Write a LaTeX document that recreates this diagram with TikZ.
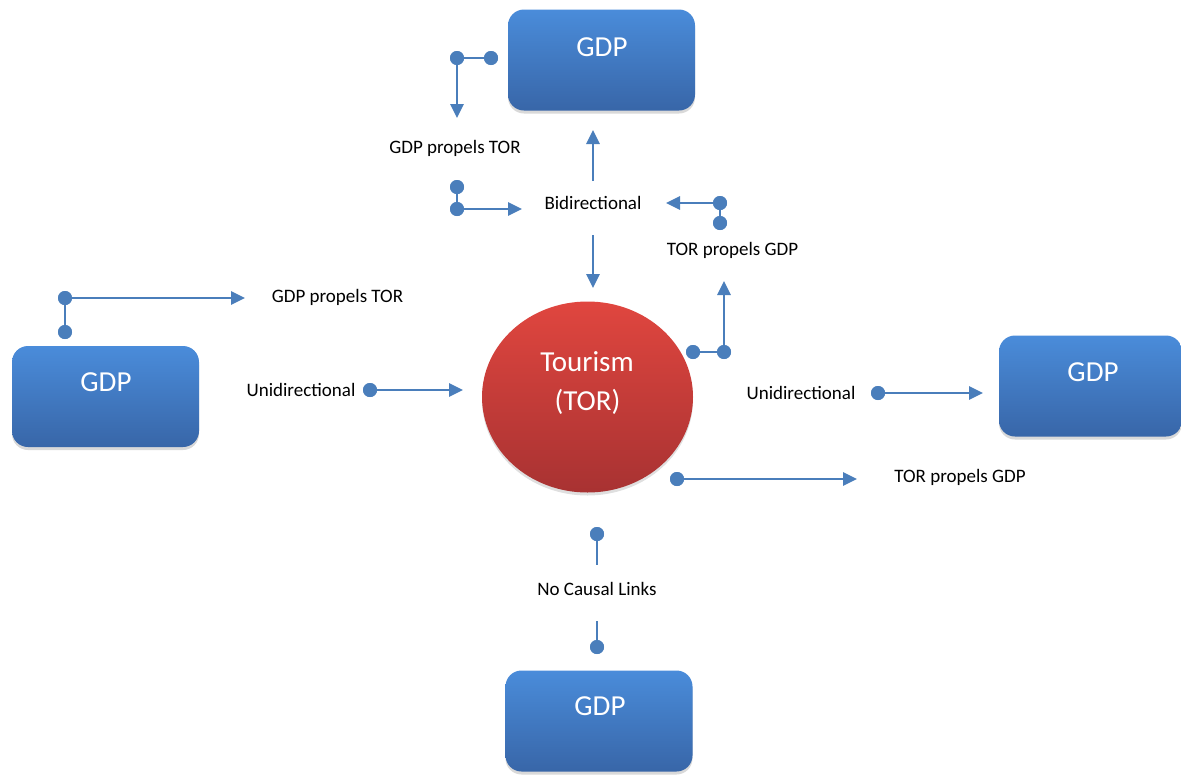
\documentclass[tikz,border=0pt]{standalone}
\usepackage{fontspec}
\setmainfont{Carlito}
\usetikzlibrary{arrows.meta,shadows,shapes.geometric}
\definecolor{conn}{HTML}{4A7EBB}
\definecolor{boxtop}{HTML}{4A8CDA}
\definecolor{boxbot}{HTML}{3866A8}
\definecolor{redtop}{HTML}{E0463F}
\definecolor{redbot}{HTML}{A83232}
\begin{document}
\begin{tikzpicture}[x=1pt,y=-1pt,
  gdpbox/.style={rectangle, rounded corners=16pt, minimum width=187pt, minimum height=101pt,
    top color=boxtop, bottom color=boxbot, draw=none, inner sep=0pt,
    drop shadow={opacity=0.3, shadow xshift=0pt, shadow yshift=-3pt}},
  torshape/.style={ellipse, minimum width=211pt, minimum height=191pt, inner sep=0pt,
    top color=redtop, bottom color=redbot, draw=none,
    drop shadow={opacity=0.25, shadow xshift=0pt, shadow yshift=-3pt}},
  gdptext/.style={text=white, font=\fontsize{29}{34}\selectfont, inner sep=0pt},
  tortext/.style={text=white, font=\fontsize{29}{40}\selectfont, inner sep=0pt},
  lbl/.style={font=\fontsize{19}{23}\selectfont, text=black, inner sep=0pt},
  link/.style={draw=conn, line width=2.8pt},
  arr/.style={link, -{Triangle[length=14pt,width=13pt]}},
  dot/.style={circle, fill=conn, minimum size=14pt, inner sep=0pt}]

\useasboundingbox (0,0) rectangle (1181,774);

% GDP boxes
\node[gdpbox] (gtop) at (601.5,60) {};
\node[gdptext] (gtopt) at (602,47) {GDP};
\node[gdpbox] (gleft) at (105.5,396.5) {};
\node[gdptext] (gleftt) at (106,382) {GDP};
\node[gdpbox, minimum width=183pt] (gright) at (1090.5,386) {};
\node[gdptext] (grightt) at (1093,372) {GDP};
\node[gdpbox] (gbot) at (599,721) {};
\node[gdptext] (gbott) at (600,706) {GDP};

% Tourism
\node[torshape] (tor) at (587.5,397) {};
\node[tortext] (tor1) at (587,362) {Tourism};
\node[tortext] (tor2) at (587.5,402) {(TOR)};

% Labels
\node[lbl] (l1) at (455,148) {GDP propels TOR};
\node[lbl] (l2) at (593,203) {Bidirectional};
\node[lbl] (l3) at (732.5,250) {TOR propels GDP};
\node[lbl] (l4) at (337.5,297) {GDP propels TOR};
\node[lbl] (l5) at (301,390) {Unidirectional};
\node[lbl] (l6) at (801,393) {Unidirectional};
\node[lbl] (l7) at (960,477) {TOR propels GDP};
\node[lbl] (l8) at (597,589) {No Causal Links};

% Dots
\node[dot] (d1) at (491,58) {};
\node[dot] (d2) at (457,58) {};
\node[dot] (d3) at (457,187) {};
\node[dot] (d4) at (457,209) {};
\node[dot] (d5) at (720,203) {};
\node[dot] (d6) at (720,223) {};
\node[dot] (d7) at (693,352) {};
\node[dot] (d8) at (724,352) {};
\node[dot] (d9) at (65,298) {};
\node[dot] (d10) at (65,332) {};
\node[dot] (d11) at (370,390) {};
\node[dot] (d12) at (878,393) {};
\node[dot] (d13) at (677,479) {};
\node[dot] (d14) at (597,534) {};
\node[dot] (d15) at (597,647) {};

% Free ends
\coordinate (e1) at (457,118);
\coordinate (e2) at (522,209);
\coordinate (e3) at (666,203);
\coordinate (e4) at (724,281);
\coordinate (e5) at (245,298);
\coordinate (e6) at (463,390);
\coordinate (e7) at (983,393);
\coordinate (e8) at (857,479);
\coordinate (e9) at (597,565);
\coordinate (e10) at (597,621);
\coordinate (u1) at (593,181);
\coordinate (u2) at (593,130);
\coordinate (v1) at (593,235);
\coordinate (v2) at (593,288);

% Connectors
\draw[link] (d1.center) -- (d2.center);
\draw[arr] (d2.center) -- (e1);
\draw[link] (d3.center) -- (d4.center);
\draw[arr] (d4.center) -- (e2);
\draw[link] (d6.center) -- (d5.center);
\draw[arr] (d5.center) -- (e3);
\draw[link] (d7.center) -- (d8.center);
\draw[arr] (d8.center) -- (e4);
\draw[link] (d10.center) -- (d9.center);
\draw[arr] (d9.center) -- (e5);
\draw[arr] (d11.center) -- (e6);
\draw[arr] (d12.center) -- (e7);
\draw[arr] (d13.center) -- (e8);
\draw[link] (d14.center) -- (e9);
\draw[link] (e10) -- (d15.center);
\draw[arr] (u1) -- (u2);
\draw[arr] (v1) -- (v2);

% redraw dots above lines
\foreach \d in {d1,d2,d3,d4,d5,d6,d7,d8,d9,d10,d11,d12,d13,d14,d15}
  \fill[conn] (\d.center) circle (7pt);
\end{tikzpicture}
\end{document}
